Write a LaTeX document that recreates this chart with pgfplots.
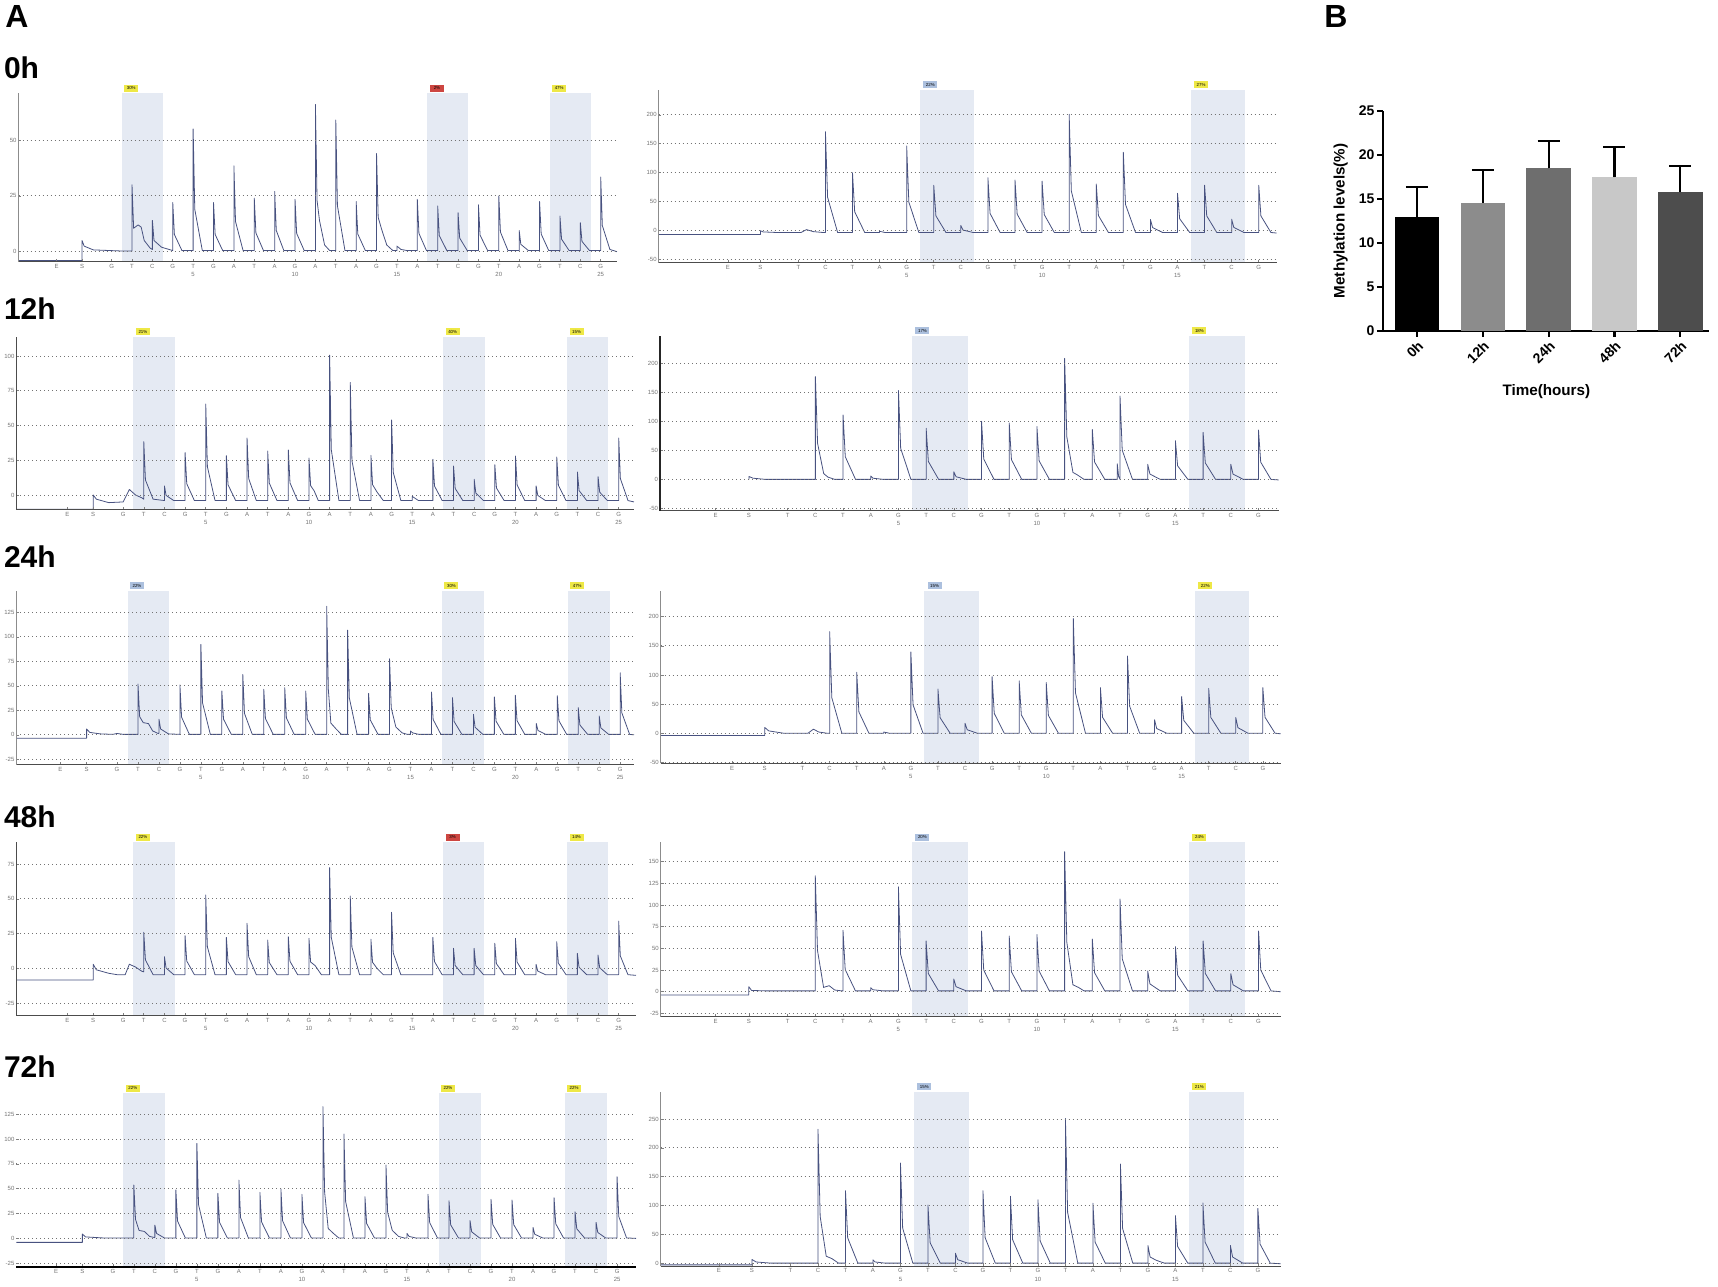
\documentclass[border=0pt]{standalone}
\usepackage{fontspec}
\setmainfont{Liberation Sans}
\usepackage{pgfplots}
\pgfplotsset{compat=1.18}
\definecolor{pk}{RGB}{72,82,128}
\definecolor{shd}{RGB}{229,234,243}
\definecolor{lyel}{RGB}{238,232,70}
\definecolor{lred}{RGB}{205,70,65}
\definecolor{lblu}{RGB}{172,192,222}
\tikzset{lab/.style={anchor=south west, inner sep=0pt, minimum width=7pt, minimum height=3.4pt, font=\fontsize{2.2}{2.2}\selectfont, yshift=0.7pt}}
\pgfplotsset{
 pyro/.style={
  scale only axis, anchor=north west, axis on top, clip=false,
  axis x line*=bottom, axis y line*=left,
  x axis line style={black!70, line width=0.5pt, -},
  y axis line style={black!45, line width=0.4pt, -},
  ymajorgrids, grid style={black!55, line width=0.45pt, dash pattern=on 0.5pt off 1.5pt},
  /pgf/number format/assume math mode=true,
  tick label style={font=\fontsize{3}{4.2}\selectfont, text=black!55},
  xticklabel style={align=center, inner sep=0.6pt, yshift=-0.5pt},
  yticklabel style={inner sep=0.8pt},
  major tick length=1.4pt, tick align=inside,
  tick style={black!50, line width=0.3pt},
 },
 leftx/.style={xtick={-1.7,-0.45,1,2,3,4,5,6,7,8,9,10,11,12,13,14,15,16,17,18,19,20,21,22,23,24,25},
  xticklabels={E,S,G,T,C,G,{T\\5},G,A,T,A,{G\\10},A,T,A,G,{T\\15},A,T,C,G,{T\\20},A,G,T,C,{G\\25}}},
 rightx/.style={xtick={-1.6,-0.4,1,2,3,4,5,6,7,8,9,10,11,12,13,14,15,16,17,18},
  xticklabels={E,S,T,C,T,A,{G\\5},T,C,G,T,{G\\10},T,A,T,G,{A\\15},T,C,G}},
 peak/.style={pk, line width=0.4pt, line join=round},
}
\begin{document}
\begin{tikzpicture}
\path[use as bounding box] (0,0) rectangle (859pt,-643pt);
\node[anchor=base west, inner sep=0, font=\bfseries\fontsize{16}{16}\selectfont] at (2.5pt,-13.5pt) {A};
\node[anchor=base west, inner sep=0, font=\bfseries\fontsize{16}{16}\selectfont] at (662pt,-13.5pt) {B};
\foreach \t/\y in {0h/-39pt,12h/-159.5pt,24h/-283.5pt,48h/-413.5pt,72h/-538.5pt}
  \node[anchor=base west, inner sep=0, font=\bfseries\fontsize{15}{15}\selectfont] at (1.8pt,\y) {\t};

% ---------------- 0h left
\begin{axis}[pyro, leftx, at={(9.25pt,-46.65pt)}, width=299.25pt, height=84.2pt,
  xmin=-3.57, xmax=25.8, ymin=-4.5, ymax=71, ytick={0,25,50}]
\addplot[fill=shd, draw=none] coordinates {(1.5,-4.5)(1.5,71)(3.5,71)(3.5,-4.5)} --cycle;
\addplot[fill=shd, draw=none] coordinates {(16.5,-4.5)(16.5,71)(18.5,71)(18.5,-4.5)} --cycle;
\addplot[fill=shd, draw=none] coordinates {(22.5,-4.5)(22.5,71)(24.5,71)(24.5,-4.5)} --cycle;
\addplot[peak] coordinates {(-3.57,-4)(-0.45,-4)(-0.45,5)(-0.35,2.5)(0.1,0.8)(1.5,0.3)
(2,0.3)(2,30)(2.08,10.5)(2.3,12)(2.45,11)(2.6,5)(2.9,1.5)
(3,1)(3,14)(3.08,5)(3.45,2)
(4,0.5)(4,22)(4.08,7.7)(4.45,0.5)
(5,0.5)(5,55)(5.08,19)(5.45,0.5)
(6,0.5)(6,22)(6.08,7.7)(6.45,0.5)
(7,0.5)(7,38.5)(7.08,13.5)(7.45,0.5)
(8,0.5)(8,24)(8.08,8.4)(8.45,0.5)
(9,0.5)(9,27)(9.08,9.5)(9.45,0.5)
(10,0.5)(10,23.5)(10.08,8.2)(10.45,0.5)
(11,0.5)(11,66)(11.08,23)(11.2,14)(11.45,3)(11.7,0.5)
(12,0.5)(12,59)(12.08,20.6)(12.45,0.5)
(13,0.5)(13,22.5)(13.08,7.9)(13.45,0.5)
(14,0.5)(14,44)(14.08,15.4)(14.25,10)(14.5,3)(14.8,0.5)
(15,0.5)(15,2.5)(15.2,1)(15.5,0.5)
(16,0.5)(16,23.5)(16.08,8.2)(16.45,0.5)
(17,0.5)(17,20.5)(17.08,7.2)(17.45,0.5)
(18,0.5)(18,17.5)(18.08,6.1)(18.45,0.5)
(19,0.5)(19,21)(19.08,7.4)(19.45,0.5)
(20,0.5)(20,25)(20.08,8.8)(20.45,0.5)
(21,0.5)(21,9.5)(21.08,3.3)(21.45,0.5)
(22,0.5)(22,22.5)(22.08,7.9)(22.45,0.5)
(23,0.5)(23,16)(23.08,5.6)(23.45,0.5)
(24,0.5)(24,13)(24.08,4.6)(24.45,0.5)
(25,0.5)(25,33.5)(25.08,11.7)(25.45,1)(25.8,0)};
\node[lab, fill=lyel] at (axis cs:1.6,71) {30\%};
\node[lab, fill=lred] at (axis cs:16.6,71) {2\%};
\node[lab, fill=lyel] at (axis cs:22.6,71) {47\%};
\end{axis}

% ---------------- 0h right
\begin{axis}[pyro, rightx, at={(329.3pt,-45pt)}, width=309pt, height=86.35pt,
  xmin=-4.16, xmax=18.66, ymin=-56.4, ymax=243, ytick={-50,0,50,100,150,200}]
\addplot[fill=shd, draw=none] coordinates {(5.5,-56.4)(5.5,243)(7.5,243)(7.5,-56.4)} --cycle;
\addplot[fill=shd, draw=none] coordinates {(15.5,-56.4)(15.5,243)(17.5,243)(17.5,-56.4)} --cycle;
\addplot[peak] coordinates {(-4.16,-7.5)(-0.4,-7.5)(-0.4,-1)(-0.3,-3)(0.2,-4)
(1.1,-4)(1.3,1)(1.55,-2.5)(1.9,-4)
(2,-4)(2,170.7)(2.08,57)(2.45,-4)
(3,-4)(3,99.5)(3.08,32)(3.45,-4)
(4,-4)(4,-2)(4.2,-4)
(5,-4)(5,146)(5.08,48.5)(5.45,-4)
(6,-4)(6,78)(6.08,24.7)(6.45,-4)
(7,-4)(7,8)(7.08,0.2)(7.45,-4)
(8,-4)(8,91)(8.08,29)(8.45,-4)
(9,-4)(9,87)(9.08,27.8)(9.45,-4)
(10,-4)(10,85)(10.08,27)(10.45,-4)
(11,-4)(11,201)(11.08,68)(11.45,-4)
(12,-4)(12,80)(12.08,25.4)(12.45,-4)
(13,-4)(13,135)(13.08,44.6)(13.45,-4)
(14,-4)(14,18.5)(14.08,4.6)(14.45,-4)
(15,-4)(15,64)(15.08,19.8)(15.45,-4)
(16,-4)(16,78)(16.08,24.7)(16.45,-4)
(17,-4)(17,19)(17.08,4.8)(17.45,-4)
(18,-4)(18,78)(18.08,24.7)(18.45,-4)(18.66,-5)};
\node[lab, fill=lblu] at (axis cs:5.6,243) {22\%};
\node[lab, fill=lyel] at (axis cs:15.6,243) {27\%};
\end{axis}

% ---------------- 12h left
\begin{axis}[pyro, leftx, at={(8.2pt,-168.35pt)}, width=308.8pt, height=86.3pt,
  y axis line style={black!70},
  xmin=-4.17, xmax=25.74, ymin=-10.3, ymax=113.9, ytick={0,25,50,75,100}]
\addplot[fill=shd, draw=none] coordinates {(1.5,-10.3)(1.5,113.9)(3.5,113.9)(3.5,-10.3)} --cycle;
\addplot[fill=shd, draw=none] coordinates {(16.5,-10.3)(16.5,113.9)(18.5,113.9)(18.5,-10.3)} --cycle;
\addplot[fill=shd, draw=none] coordinates {(22.5,-10.3)(22.5,113.9)(24.5,113.9)(24.5,-10.3)} --cycle;
\addplot[peak] coordinates {(-4.17,-10.3)(-0.45,-10.3)(-0.45,0)(-0.3,-3)(0.3,-5.5)(1,-5)(1.3,4)(1.6,0)(1.9,-2)
(2,-3)(2,38.4)(2.08,10.8)(2.45,-3)
(3,-4)(3,6.5)(3.08,-0.3)(3.45,-4)
(4,-4)(4,30.5)(4.08,8.1)(4.45,-4)
(5,-4)(5,65.5)(5.08,20.3)(5.45,-4)
(6,-4)(6,28.3)(6.08,7.3)(6.45,-4)
(7,-4)(7,41)(7.08,11.8)(7.45,-4)
(8,-4)(8,31.6)(8.08,8.5)(8.45,-4)
(9,-4)(9,32.4)(9.08,8.7)(9.45,-4)
(10,-4)(10,26.6)(10.08,6.7)(10.25,3)(10.45,-4)
(11,-4)(11,100.7)(11.08,32.6)(11.45,-4)
(12,-4)(12,81)(12.08,24.7)(12.45,-4)
(13,-4)(13,28.5)(13.08,7.4)(13.3,2)(13.6,-4)
(14,-4)(14,54)(14.08,16.3)(14.45,-4)
(15,-4)(15,-1)(15.3,-4)
(16,-4)(16,25.7)(16.08,6.4)(16.45,-4)
(17,-4)(17,20.9)(17.08,4.7)(17.45,-4)
(18,-4)(18,11.3)(18.08,1.4)(18.45,-4)
(19,-4)(19,21.8)(19.08,5)(19.45,-4)
(20,-4)(20,28)(20.08,7.2)(20.45,-4)
(21,-4)(21,6.5)(21.08,-0.3)(21.45,-4)
(22,-4)(22,27.3)(22.08,7)(22.45,-4)
(23,-4)(23,16.5)(23.08,3.2)(23.45,-4)
(24,-4)(24,13.2)(24.08,2)(24.45,-4)
(25,-4)(25,41)(25.08,11.8)(25.45,-4)(25.74,-5)};
\node[lab, fill=lyel] at (axis cs:1.6,113.9) {21\%};
\node[lab, fill=lyel] at (axis cs:16.6,113.9) {40\%};
\node[lab, fill=lyel] at (axis cs:22.6,113.9) {15\%};
\end{axis}

% ---------------- 12h right
\begin{axis}[pyro, rightx, at={(330pt,-168pt)}, width=309.35pt, height=87.35pt,
  y axis line style={black!85, line width=0.6pt},
  xmin=-3.61, xmax=18.73, ymin=-54, ymax=247, ytick={-50,0,50,100,150,200}]
\addplot[fill=shd, draw=none] coordinates {(5.5,-54)(5.5,247)(7.5,247)(7.5,-54)} --cycle;
\addplot[fill=shd, draw=none] coordinates {(15.5,-54)(15.5,247)(17.5,247)(17.5,-54)} --cycle;
\addplot[peak] coordinates {(-0.4,0)(-0.4,5)(-0.25,2)(0.2,0)
(2,0)(2,177)(2.08,62)(2.3,10)(2.45,4)(2.7,0)
(3,0)(3,111)(3.08,39)(3.45,0)
(4,0)(4,5.7)(4.08,2)(4.45,0)
(5,0)(5,153)(5.08,53.5)(5.45,0)
(6,0)(6,88)(6.08,30.8)(6.45,0)
(7,0)(7,13)(7.08,4.5)(7.45,0)
(8,0)(8,100)(8.08,35)(8.45,0)
(9,0)(9,97)(9.08,34)(9.45,0)
(10,0)(10,91)(10.08,31.8)(10.45,0)
(11,0)(11,208.6)(11.08,73)(11.3,12)(11.45,8)(11.7,0)
(12,0)(12,86)(12.08,30)(12.45,0)
(12.9,0)(12.9,27)(12.95,5)(13,0)(13,143.7)(13.08,50.3)(13.45,0)
(14,0)(14,26)(14.08,9.1)(14.45,0)
(15,0)(15,66.7)(15.08,23.3)(15.45,0)
(16,0)(16,81)(16.08,28.3)(16.45,0)
(17,0)(17,26)(17.08,9.1)(17.45,0)
(18,0)(18,85)(18.08,29.7)(18.45,0)(18.73,-1)};
\node[lab, fill=lblu] at (axis cs:5.6,247) {17\%};
\node[lab, fill=lyel] at (axis cs:15.6,247) {18\%};
\end{axis}

% ---------------- 24h left
\begin{axis}[pyro, leftx, at={(8.2pt,-295.35pt)}, width=308.8pt, height=87pt,
  xmin=-3.8, xmax=25.66, ymin=-30.5, ymax=147.2, ytick={-25,0,25,50,75,100,125}]
\addplot[fill=shd, draw=none] coordinates {(1.5,-30.5)(1.5,147.2)(3.5,147.2)(3.5,-30.5)} --cycle;
\addplot[fill=shd, draw=none] coordinates {(16.5,-30.5)(16.5,147.2)(18.5,147.2)(18.5,-30.5)} --cycle;
\addplot[fill=shd, draw=none] coordinates {(22.5,-30.5)(22.5,147.2)(24.5,147.2)(24.5,-30.5)} --cycle;
\addplot[peak] coordinates {(-3.8,-3.4)(-0.45,-3.4)(-0.45,6)(-0.3,2.5)(0.2,1)(0.8,0.5)(1,1.4)(1.3,0.5)
(2,0.5)(2,52)(2.08,18.5)(2.25,12.5)(2.5,11.5)(2.7,4)(2.95,1.5)
(3,1.5)(3,16)(3.08,6)(3.45,1)
(4,0.5)(4,51)(4.08,18)(4.45,0.5)
(5,0.5)(5,92.3)(5.08,32.6)(5.45,0.5)
(6,0.5)(6,44.8)(6.08,16)(6.45,0.5)
(7,0.5)(7,61.7)(7.08,21.9)(7.45,0.5)
(8,0.5)(8,46.5)(8.08,16.6)(8.45,0.5)
(9,0.5)(9,48.2)(9.08,17.2)(9.45,0.5)
(10,0.5)(10,44.8)(10.08,16)(10.45,0.5)
(11,0.5)(11,131.3)(11.08,46.3)(11.2,12)(11.45,6)(11.7,0.5)
(12,0.5)(12,107)(12.08,37.8)(12.45,0.5)
(13,0.5)(13,42.4)(13.08,15.2)(13.45,0.5)
(14,0.5)(14,77.7)(14.08,27.5)(14.3,8)(14.6,2)(14.85,0.5)
(15,0.5)(15,4)(15.1,2)(15.4,0.5)
(16,0.5)(16,43.8)(16.08,15.6)(16.45,0.5)
(17,0.5)(17,38)(17.08,13.6)(17.45,0.5)
(18,0.5)(18,21)(18.08,7.7)(18.45,0.5)
(19,0.5)(19,38.7)(19.08,13.9)(19.45,0.5)
(20,0.5)(20,40.4)(20.08,14.5)(20.45,0.5)
(21,0.5)(21,11.5)(21.08,4.4)(21.45,0.5)
(22,0.5)(22,40)(22.08,14.3)(22.45,0.5)
(23,0.5)(23,27.8)(23.08,10)(23.45,0.5)
(24,0.5)(24,19.3)(24.08,7.1)(24.45,0.5)
(25,0.5)(25,63.4)(25.08,22.5)(25.45,0.5)(25.66,0)};
\node[lab, fill=lblu] at (axis cs:1.6,147.2) {22\%};
\node[lab, fill=lyel] at (axis cs:16.6,147.2) {30\%};
\node[lab, fill=lyel] at (axis cs:22.6,147.2) {47\%};
\end{axis}

% ---------------- 24h right
\begin{axis}[pyro, rightx, at={(330.35pt,-295.35pt)}, width=310pt, height=86.3pt,
  xmin=-4.24, xmax=18.66, ymin=-51.7, ymax=244.8, ytick={-50,0,50,100,150,200}]
\addplot[fill=shd, draw=none] coordinates {(5.5,-51.7)(5.5,244.8)(7.5,244.8)(7.5,-51.7)} --cycle;
\addplot[fill=shd, draw=none] coordinates {(15.5,-51.7)(15.5,244.8)(17.5,244.8)(17.5,-51.7)} --cycle;
\addplot[peak] coordinates {(-4.24,-4)(-0.4,-4)(-0.4,10)(-0.25,4)(0.3,0)
(1.2,0)(1.4,7)(1.6,2)(1.9,0)
(2,0)(2,174.5)(2.08,61)(2.45,0)
(3,0)(3,104.7)(3.08,36.6)(3.45,0)
(4,0)(4,2)(4.2,0)
(5,0)(5,139.6)(5.08,48.9)(5.45,0)
(6,0)(6,76)(6.08,26.6)(6.45,0)
(7,0)(7,17)(7.08,6)(7.45,0)
(8,0)(8,97)(8.08,34)(8.45,0)
(9,0)(9,90)(9.08,31.5)(9.45,0)
(10,0)(10,87)(10.08,30.5)(10.45,0)
(11,0)(11,197.3)(11.08,69)(11.45,0)
(12,0)(12,78.4)(12.08,27.4)(12.45,0)
(13,0)(13,132.7)(13.08,46.4)(13.45,0)
(14,0)(14,23)(14.08,8)(14.45,0)
(15,0)(15,63)(15.08,22)(15.45,0)
(16,0)(16,77)(16.08,27)(16.45,0)
(17,0)(17,27)(17.08,9.5)(17.45,0)
(18,0)(18,78.4)(18.08,27.4)(18.45,0)(18.66,-1)};
\node[lab, fill=lblu] at (axis cs:5.6,244.8) {15\%};
\node[lab, fill=lyel] at (axis cs:15.6,244.8) {22\%};
\end{axis}

% ---------------- 48h left
\begin{axis}[pyro, leftx, at={(8.2pt,-421.15pt)}, width=309.8pt, height=86.7pt,
  y axis line style={black!70},
  xmin=-4.17, xmax=25.84, ymin=-34, ymax=90.6, ytick={-25,0,25,50,75}]
\addplot[fill=shd, draw=none] coordinates {(1.5,-34)(1.5,90.6)(3.5,90.6)(3.5,-34)} --cycle;
\addplot[fill=shd, draw=none] coordinates {(16.5,-34)(16.5,90.6)(18.5,90.6)(18.5,-34)} --cycle;
\addplot[fill=shd, draw=none] coordinates {(22.5,-34)(22.5,90.6)(24.5,90.6)(24.5,-34)} --cycle;
\addplot[peak] coordinates {(-4.17,-8.4)(-0.45,-8.4)(-0.45,3)(-0.3,-1)(0.3,-3.5)(0.7,-4.5)(1.1,-4.5)(1.3,3)(1.6,1)(1.9,-2)
(2,-2.5)(2,25.9)(2.08,6.1)(2.45,-4.5)
(3,-4.5)(3,8.4)(3.08,0.3)(3.45,-4.5)
(4,-4.5)(4,23.5)(4.08,5.3)(4.45,-4.5)
(5,-4.5)(5,52.8)(5.08,15.5)(5.45,-4.5)
(6,-4.5)(6,22.3)(6.08,4.9)(6.45,-4.5)
(7,-4.5)(7,32.4)(7.08,8.4)(7.45,-4.5)
(8,-4.5)(8,20.4)(8.08,4.2)(8.45,-4.5)
(9,-4.5)(9,22.8)(9.08,5.1)(9.45,-4.5)
(10,-4.5)(10,21.6)(10.08,4.6)(10.3,2)(10.6,-4.5)
(11,-4.5)(11,72.4)(11.08,22.4)(11.45,-4.5)
(12,-4.5)(12,52)(12.08,15.3)(12.45,-4.5)
(13,-4.5)(13,21)(13.08,4.4)(13.3,0)(13.6,-4.5)
(14,-4.5)(14,40.3)(14.08,11.2)(14.45,-4.5)
(16,-4.5)(16,22.3)(16.08,4.9)(16.45,-4.5)
(17,-4.5)(17,14.4)(17.08,2.1)(17.45,-4.5)
(18,-4.5)(18,14.4)(18.08,2.1)(18.45,-4.5)
(19,-4.5)(19,18)(19.08,3.4)(19.45,-4.5)
(20,-4.5)(20,21.6)(20.08,4.6)(20.45,-4.5)
(21,-4.5)(21,2.9)(21.08,-1.9)(21.45,-4.5)
(22,-4.5)(22,19.2)(22.08,3.8)(22.45,-4.5)
(23,-4.5)(23,10.8)(23.08,0.9)(23.45,-4.5)
(24,-4.5)(24,9.6)(24.08,0.5)(24.45,-4.5)
(25,-4.5)(25,34)(25.08,9)(25.45,-4.5)(25.84,-5)};
\node[lab, fill=lyel] at (axis cs:1.6,90.6) {22\%};
\node[lab, fill=lred] at (axis cs:16.6,90.6) {3\%};
\node[lab, fill=lyel] at (axis cs:22.6,90.6) {14\%};
\end{axis}

% ---------------- 48h right
\begin{axis}[pyro, rightx, at={(330.35pt,-421.15pt)}, width=310pt, height=87.2pt,
  xmin=-3.58, xmax=18.8, ymin=-28.8, ymax=172.3, ytick={-25,0,25,50,75,100,125,150}]
\addplot[fill=shd, draw=none] coordinates {(5.5,-28.8)(5.5,172.3)(7.5,172.3)(7.5,-28.8)} --cycle;
\addplot[fill=shd, draw=none] coordinates {(15.5,-28.8)(15.5,172.3)(17.5,172.3)(17.5,-28.8)} --cycle;
\addplot[peak] coordinates {(-3.58,-3.8)(-0.4,-3.8)(-0.4,5.8)(-0.3,1.5)(0.2,1)
(2,1)(2,133.8)(2.08,47.5)(2.3,5)(2.5,7)(2.7,2)(2.95,1)
(3,1)(3,71)(3.08,25.5)(3.45,1)
(4,1)(4,4.6)(4.08,2.3)(4.45,1)
(5,1)(5,121)(5.08,43)(5.45,1)
(6,1)(6,58.5)(6.08,21)(6.45,1)
(7,1)(7,14.6)(7.08,5.8)(7.45,1)
(8,1)(8,70)(8.08,25)(8.45,1)
(9,1)(9,64.2)(9.08,23)(9.45,1)
(10,1)(10,66)(10.08,23.8)(10.45,1)
(11,1)(11,161.5)(11.08,57)(11.3,8)(11.5,5)(11.7,1)
(12,1)(12,60.8)(12.08,22)(12.45,1)
(13,1)(13,107)(13.08,38)(13.45,1)
(14,1)(14,23.8)(14.08,9)(14.45,1)
(15,1)(15,52)(15.08,19)(15.45,1)
(16,1)(16,58.5)(16.08,21)(16.45,1)
(17,1)(17,20.8)(17.08,8)(17.45,1)
(18,1)(18,70)(18.08,25)(18.45,1)(18.8,0)};
\node[lab, fill=lblu] at (axis cs:5.6,172.3) {20\%};
\node[lab, fill=lyel] at (axis cs:15.6,172.3) {24\%};
\end{axis}

% ---------------- 72h left
\begin{axis}[pyro, leftx, at={(8.2pt,-546.65pt)}, width=309.8pt, height=86.7pt,
  x axis line style={black, line width=0.9pt}, y axis line style={draw=none},
  xmin=-3.59, xmax=25.9, ymin=-28.5, ymax=146, ytick={-25,0,25,50,75,100,125}]
\addplot[fill=shd, draw=none] coordinates {(1.5,-28.5)(1.5,146)(3.5,146)(3.5,-28.5)} --cycle;
\addplot[fill=shd, draw=none] coordinates {(16.5,-28.5)(16.5,146)(18.5,146)(18.5,-28.5)} --cycle;
\addplot[fill=shd, draw=none] coordinates {(22.5,-28.5)(22.5,146)(24.5,146)(24.5,-28.5)} --cycle;
\addplot[peak] coordinates {(-3.59,-4)(-0.45,-4)(-0.45,4.4)(-0.3,1.5)(0.5,0.5)
(2,0.5)(2,53.7)(2.08,19)(2.25,8)(2.5,7)(2.75,2)(2.95,1)
(3,1)(3,13.4)(3.08,5)(3.45,0.5)
(4,0.5)(4,48.7)(4.08,17.4)(4.45,0.5)
(5,0.5)(5,95.6)(5.08,33.8)(5.45,0.5)
(6,0.5)(6,45.3)(6.08,16.2)(6.45,0.5)
(7,0.5)(7,58.7)(7.08,20.9)(7.45,0.5)
(8,0.5)(8,46.3)(8.08,16.5)(8.45,0.5)
(9,0.5)(9,49.7)(9.08,17.7)(9.45,0.5)
(10,0.5)(10,44.3)(10.08,15.8)(10.45,0.5)
(11,0.5)(11,132.6)(11.08,46.7)(11.25,10)(11.5,5)(11.75,0.5)
(12,0.5)(12,105)(12.08,37)(12.45,0.5)
(13,0.5)(13,42)(13.08,15)(13.45,0.5)
(14,0.5)(14,73.8)(14.08,26.2)(14.3,8)(14.6,2)(14.85,0.5)
(15,0.5)(15,5)(15.1,2)(15.4,0.5)
(16,0.5)(16,44.3)(16.08,15.8)(16.45,0.5)
(17,0.5)(17,37.9)(17.08,13.6)(17.45,0.5)
(18,0.5)(18,18)(18.08,6.6)(18.45,0.5)
(19,0.5)(19,39.3)(19.08,14.1)(19.45,0.5)
(20,0.5)(20,38.6)(20.08,13.8)(20.45,0.5)
(21,0.5)(21,11)(21.08,4.2)(21.45,0.5)
(22,0.5)(22,41)(22.08,14.7)(22.45,0.5)
(23,0.5)(23,26.8)(23.08,9.7)(23.45,0.5)
(24,0.5)(24,16.1)(24.08,6)(24.45,0.5)
(25,0.5)(25,62)(25.08,22)(25.45,0.5)(25.9,0)};
\node[lab, fill=lyel] at (axis cs:1.6,146) {22\%};
\node[lab, fill=lyel] at (axis cs:16.6,146) {22\%};
\node[lab, fill=lyel] at (axis cs:22.6,146) {22\%};
\end{axis}

% ---------------- 72h right
\begin{axis}[pyro, rightx, at={(330.35pt,-546pt)}, width=310pt, height=87pt,
  xmin=-3.72, xmax=18.83, ymin=-5, ymax=297, ytick={0,50,100,150,200,250}]
\addplot[fill=shd, draw=none] coordinates {(5.5,-5)(5.5,297)(7.5,297)(7.5,-5)} --cycle;
\addplot[fill=shd, draw=none] coordinates {(15.5,-5)(15.5,297)(17.5,297)(17.5,-5)} --cycle;
\addplot[peak] coordinates {(-3.72,-3)(-0.4,-3)(-0.4,6.4)(-0.25,2)(0.3,0)
(2,0)(2,232.5)(2.08,81)(2.3,12)(2.5,8)(2.75,0)
(3,0)(3,125.8)(3.08,44)(3.45,0)
(4,0)(4,5.8)(4.08,2)(4.45,0)
(5,0)(5,173.7)(5.08,60.8)(5.45,0)
(6,0)(6,101)(6.08,35.4)(6.45,0)
(7,0)(7,17.3)(7.08,6)(7.45,0)
(8,0)(8,125.8)(8.08,44)(8.45,0)
(9,0)(9,116)(9.08,40.6)(9.45,0)
(10,0)(10,110)(10.08,38.5)(10.45,0)
(11,0)(11,251)(11.08,88)(11.45,0)
(12,0)(12,104)(12.08,36.4)(12.45,0)
(13,0)(13,172)(13.08,60)(13.45,0)
(14,0)(14,30.6)(14.08,10.7)(14.3,5)(14.6,0)
(15,0)(15,82.5)(15.08,29)(15.45,0)
(16,0)(16,104.4)(16.08,36.5)(16.45,0)
(17,0)(17,30.6)(17.08,10.7)(17.45,0)
(18,0)(18,95)(18.08,33)(18.45,0)(18.83,-1)};
\node[lab, fill=lblu] at (axis cs:5.6,297) {15\%};
\node[lab, fill=lyel] at (axis cs:15.6,297) {21\%};
\end{axis}

% ---------------- B: bar chart
\begin{axis}[at={(691.65pt,-55.5pt)}, anchor=north west, scale only axis,
  width=163pt, height=109.85pt, ymin=0, ymax=25, xmin=-0.51, xmax=4.44,
  axis x line*=bottom, axis y line*=left,
  axis line style={line width=1.1pt, -},
  tick style={line width=1.1pt, black}, major tick length=3pt, tick align=outside,
  ytick={0,5,10,15,20,25}, xtick={0,1,2,3,4}, xticklabels={0h,12h,24h,48h,72h},
  /pgf/number format/assume math mode=true,
  tick label style={font=\bfseries\fontsize{7}{8}\selectfont},
  yticklabel style={inner sep=1.2pt},
  xticklabel style={rotate=45, anchor=north east, inner sep=1pt},
  ylabel={Methylation levels(\%)}, xlabel={Time(hours)},
  label style={font=\bfseries\fontsize{7.6}{9}\selectfont},
  ylabel style={at={([xshift=-21.3pt]axis description cs:0,0.5)}, anchor=center},
  xlabel style={at={([yshift=-30.6pt]axis description cs:0.5,0)}, anchor=center},
  bar width=0.675,
  err/.style={error bars/.cd, y dir=plus, y explicit,
    error bar style={line width=1.1pt, black},
    error mark options={rotate=90, line width=1.1pt, mark size=5.5pt, black}}]
\addplot[ybar, bar shift=0pt, fill=black, draw=none, err] coordinates {(0,12.97) +- (0,3.34)};
\addplot[ybar, bar shift=0pt, fill={rgb,255:red,140;green,140;blue,140}, draw=none, err] coordinates {(1,14.57) +- (0,3.72)};
\addplot[ybar, bar shift=0pt, fill={rgb,255:red,110;green,110;blue,110}, draw=none, err] coordinates {(2,18.47) +- (0,3.12)};
\addplot[ybar, bar shift=0pt, fill={rgb,255:red,200;green,200;blue,200}, draw=none, err] coordinates {(3,17.45) +- (0,3.49)};
\addplot[ybar, bar shift=0pt, fill={rgb,255:red,77;green,77;blue,77}, draw=none, err] coordinates {(4,15.78) +- (0,2.96)};
\end{axis}
\end{tikzpicture}
\end{document}
